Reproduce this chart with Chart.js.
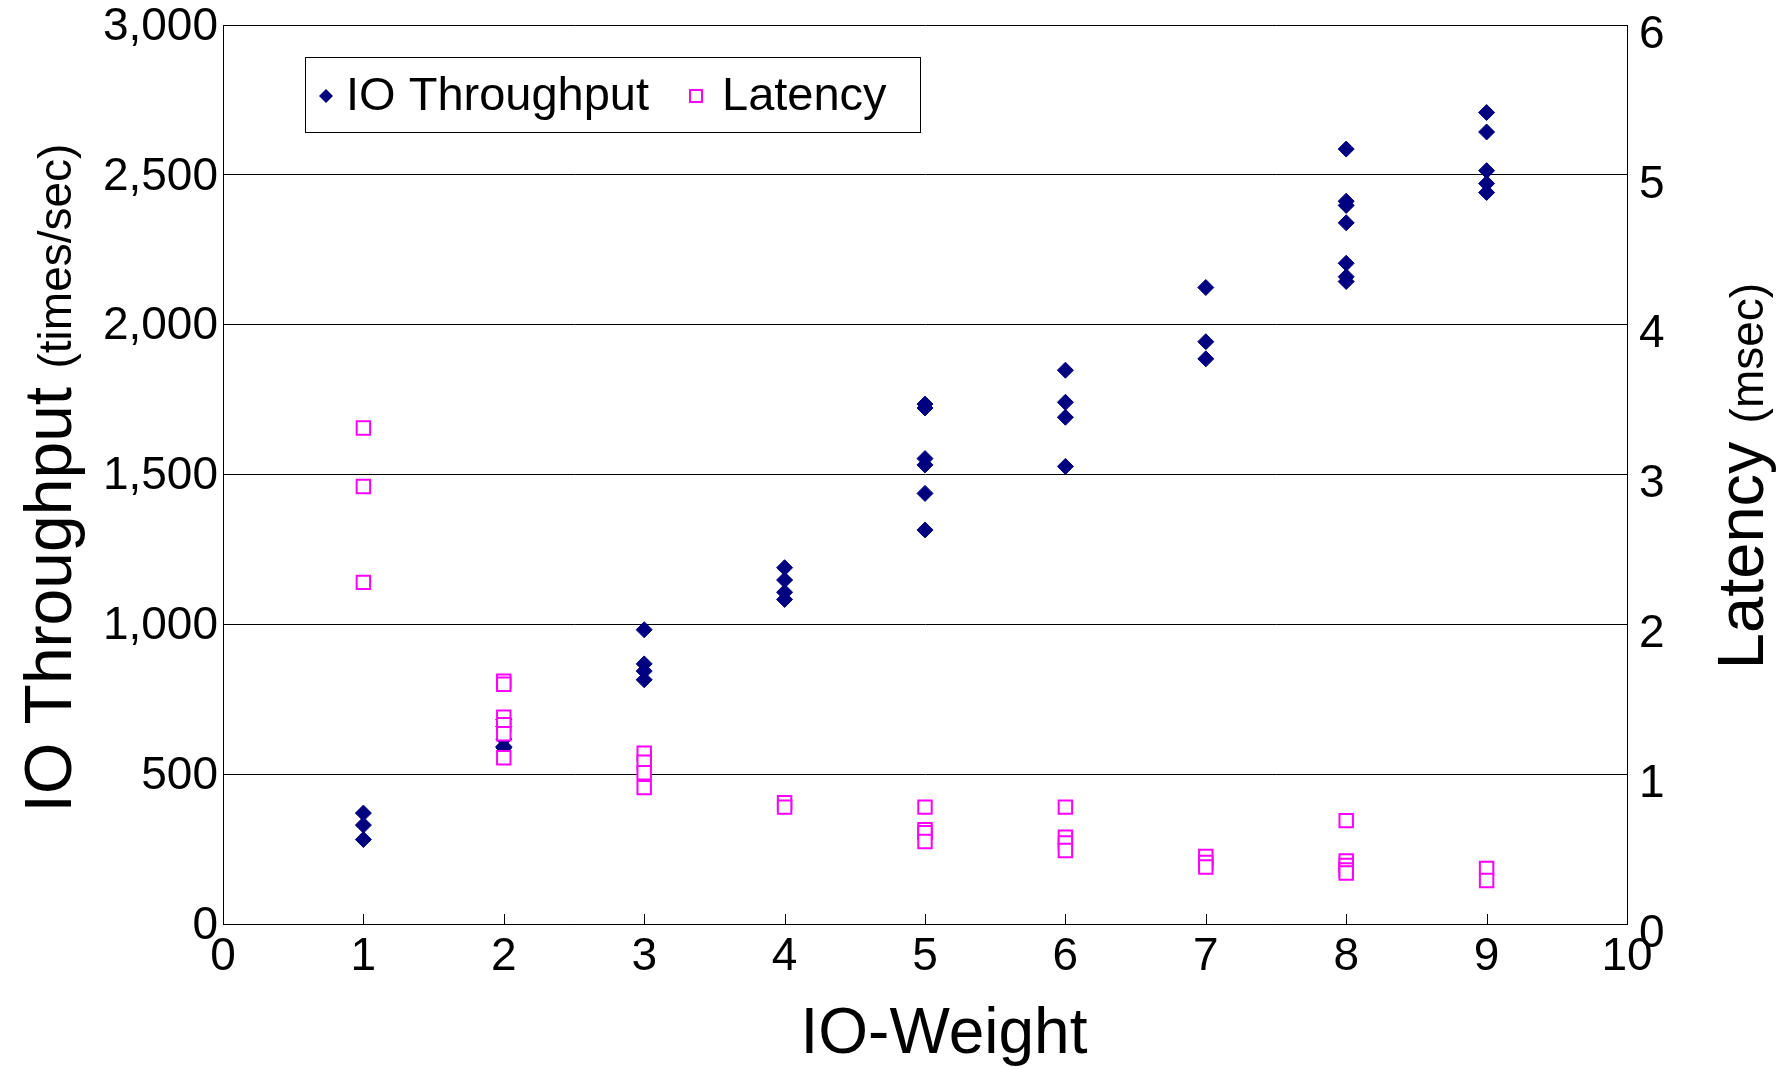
<!DOCTYPE html>
<html lang="en">
<head>
    <meta charset="UTF-8">
    <title>IO Throughput and Latency by IO-Weight</title>
    <style>
        body {
            margin: 0;
            background: #fff;
        }
        #wrap {
            width: 1785px;
            height: 1069px;
        }
    </style>
</head>
<body>
    <div id="wrap"><canvas id="ioChart"></canvas></div>

    <script src="https://cdn.jsdelivr.net/npm/chart.js"></script>
    <script>
        const ioWeights = [1, 2, 3, 4, 5, 6, 7, 8, 9];

        // IO throughput (times/sec), one list of runs per IO-weight
        const throughputRuns = [
            [370, 330, 282],
            [683, 659, 617, 592, 588],
            [982, 868, 844, 815],
            [1189, 1148, 1107, 1083],
            [1735, 1722, 1553, 1532, 1437, 1315],
            [1848, 1741, 1691, 1527],
            [2124, 1943, 1886],
            [2586, 2412, 2398, 2340, 2205, 2160, 2144],
            [2708, 2643, 2514, 2471, 2441]
        ];

        // latency (msec), one list of runs per IO-weight
        const latencyRuns = [
            [3.31, 2.92, 2.28],
            [1.62, 1.60, 1.38, 1.33, 1.27, 1.11],
            [1.14, 1.08, 1.01, 0.91],
            [0.81, 0.78],
            [0.78, 0.63, 0.61, 0.55],
            [0.78, 0.58, 0.54, 0.49],
            [0.45, 0.41, 0.38],
            [0.69, 0.42, 0.39, 0.36, 0.34],
            [0.37, 0.29]
        ];

        const FONT = '"Liberation Sans", Arial, sans-serif';
        const NAVY = '#000080';
        const MAGENTA = '#ff00ff';

        function toPoints(runs) {
            return runs.flatMap((vals, i) => vals.map(v => ({ x: ioWeights[i], y: v })));
        }

        // draws a rotated title made of a big part and a smaller part in brackets
        function rotatedTitle(ctx, x, y, big, bigSize, small, smallSize) {
            ctx.save();
            ctx.translate(x, y);
            ctx.rotate(-Math.PI / 2);
            ctx.textBaseline = 'alphabetic';
            ctx.textAlign = 'left';
            ctx.fillStyle = '#000';
            ctx.font = bigSize + 'px ' + FONT;
            const w1 = ctx.measureText(big + ' ').width;
            ctx.font = smallSize + 'px ' + FONT;
            const w2 = ctx.measureText(small).width;
            let start = -(w1 + w2) / 2;
            ctx.font = bigSize + 'px ' + FONT;
            ctx.fillText(big + ' ', start, 0);
            ctx.font = smallSize + 'px ' + FONT;
            ctx.fillText(small, start + w1, 0);
            ctx.restore();
        }

        const extras = {
            id: 'extras',
            afterDraw(chart) {
                const ctx = chart.ctx;
                const area = chart.chartArea;
                const xs = chart.scales.x;

                // tick marks pointing into the plot
                ctx.save();
                ctx.strokeStyle = '#000';
                ctx.lineWidth = 1;
                for (let v = 1; v < 10; v++) {
                    const px = Math.round(xs.getPixelForValue(v)) + 0.5;
                    ctx.beginPath();
                    ctx.moveTo(px, area.bottom);
                    ctx.lineTo(px, area.bottom - 10);
                    ctx.stroke();
                }
                ctx.restore();

                // axis titles
                ctx.save();
                ctx.fillStyle = '#000';
                ctx.font = '64px ' + FONT;
                ctx.textAlign = 'center';
                ctx.textBaseline = 'alphabetic';
                ctx.fillText('IO-Weight', 944, 1053);
                ctx.restore();
                rotatedTitle(ctx, 71, 478, 'IO Throughput', 66, '(times/sec)', 46);
                rotatedTitle(ctx, 1763, 476, 'Latency', 65, '(msec)', 46);

                // legend box
                ctx.save();
                ctx.fillStyle = '#fff';
                ctx.fillRect(305, 57, 615, 75);
                ctx.strokeStyle = '#000';
                ctx.lineWidth = 1;
                ctx.strokeRect(305.5, 57.5, 615, 75);

                ctx.fillStyle = NAVY;
                ctx.beginPath();
                ctx.moveTo(326 - 7, 96);
                ctx.lineTo(326, 96 - 7);
                ctx.lineTo(326 + 7, 96);
                ctx.lineTo(326, 96 + 7);
                ctx.closePath();
                ctx.fill();

                ctx.strokeStyle = MAGENTA;
                ctx.lineWidth = 2;
                ctx.strokeRect(690, 90, 12, 12);

                ctx.fillStyle = '#000';
                ctx.font = '47px ' + FONT;
                ctx.textAlign = 'left';
                ctx.textBaseline = 'middle';
                ctx.fillText('IO Throughput', 346, 97);
                ctx.fillText('Latency', 722, 97);
                ctx.restore();
            }
        };

        const tickFont = { family: FONT, size: 46 };

        new Chart(document.getElementById('ioChart'), {
            type: 'scatter',
            data: {
                datasets: [
                    {
                        label: 'IO Throughput',
                        data: toPoints(throughputRuns),
                        yAxisID: 'y',
                        pointStyle: 'rectRot',
                        pointRadius: 8,
                        backgroundColor: NAVY,
                        borderColor: NAVY,
                        borderWidth: 1,
                        order: 2
                    },
                    {
                        label: 'Latency',
                        data: toPoints(latencyRuns),
                        yAxisID: 'y2',
                        pointStyle: 'rect',
                        pointRadius: 9.5,
                        backgroundColor: '#fff',
                        borderColor: MAGENTA,
                        borderWidth: 2,
                        order: 1
                    }
                ]
            },
            options: {
                responsive: true,
                maintainAspectRatio: false,
                animation: false,
                devicePixelRatio: 1,
                layout: { padding: { top: 25, left: 0, right: 0, bottom: 0 } },
                plugins: {
                    legend: { display: false },
                    tooltip: { enabled: false }
                },
                scales: {
                    x: {
                        type: 'linear',
                        min: 0,
                        max: 10,
                        ticks: { stepSize: 1, font: tickFont, color: '#000', padding: 6 },
                        grid: { drawOnChartArea: false, drawTicks: false },
                        border: { color: '#000', width: 1 },
                        afterFit: s => { s.height = 145; s.paddingLeft = 0; s.paddingRight = 0; }
                    },
                    y: {
                        position: 'left',
                        min: 0,
                        max: 3000,
                        ticks: {
                            stepSize: 500,
                            font: tickFont,
                            color: '#000',
                            padding: 5,
                            labelOffset: 2,
                            callback: v => v.toLocaleString('en-US')
                        },
                        grid: { color: '#000', lineWidth: 1, drawTicks: false },
                        border: { color: '#000', width: 1 },
                        afterFit: s => { s.width = 223; s.paddingTop = 0; s.paddingBottom = 0; }
                    },
                    y2: {
                        position: 'right',
                        min: 0,
                        max: 6,
                        ticks: { stepSize: 1, font: tickFont, color: '#000', padding: 12, labelOffset: 10 },
                        grid: { drawOnChartArea: false, drawTicks: false },
                        border: { color: '#000', width: 1 },
                        afterFit: s => { s.width = 158; s.paddingTop = 0; s.paddingBottom = 0; }
                    }
                }
            },
            plugins: [extras]
        });
    </script>
</body>
</html>
